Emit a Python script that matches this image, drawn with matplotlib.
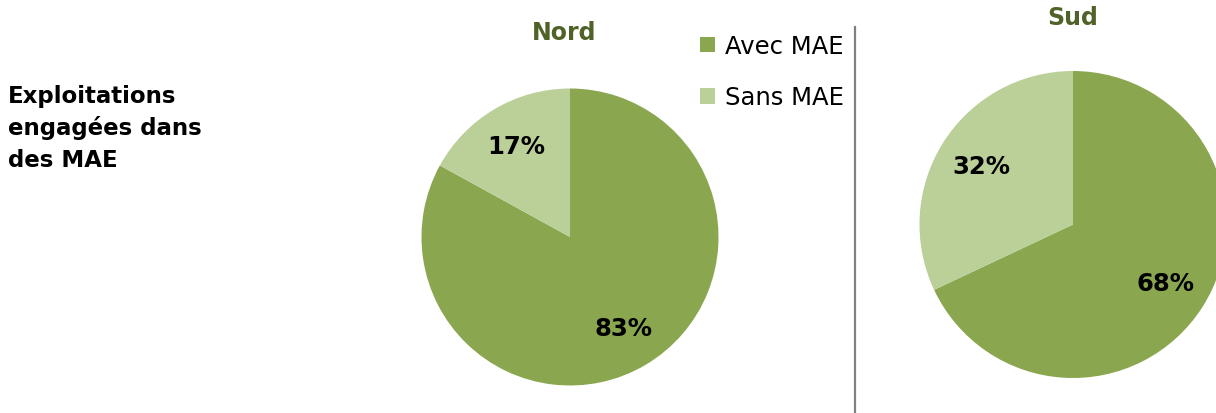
import matplotlib
matplotlib.use("Agg")
import matplotlib.pyplot as plt

categories = ["Avec MAE", "Sans MAE"]
regions = ["Nord", "Sud"]
nord_values = [83, 17]
sud_values = [68, 32]
colors = ["#8AA64F", "#BBCF98"]
title_color = "#4F6228"

W, H = 1216, 414
fig = plt.figure(figsize=(W / 100, H / 100), dpi=100)
fig.patch.set_facecolor("white")

def px_axes(cx, cy, r):
    # cx, cy in pixels from top-left
    return fig.add_axes([(cx - r) / W, (H - cy - r) / H, 2 * r / W, 2 * r / H])

pies = [(nord_values, 570, 238, 148.5), (sud_values, 1073, 225.5, 153.5)]
wedges_all = []
for vals, cx, cy, r in pies:
    ax = px_axes(cx, cy, r)
    wedges, texts, autotexts = ax.pie(
        vals, colors=colors, startangle=90, counterclock=False,
        autopct="%.0f%%", pctdistance=0.71, radius=1.0,
        textprops=dict(fontsize=17.5, fontweight="bold", color="black",
                       family="DejaVu Sans"),
        wedgeprops=dict(linewidth=0))
    ax.set_xlim(-1, 1)
    ax.set_ylim(-1, 1)
    ax.set_aspect("equal")
    ax.axis("off")
    wedges_all.append(wedges)

# Titles
fig.text(564 / W, 1 - 33 / H, regions[0], ha="center", va="center",
         fontsize=17, fontweight="bold", color=title_color, family="DejaVu Sans")
fig.text(1073 / W, 1 - 18 / H, regions[1], ha="center", va="center",
         fontsize=17, fontweight="bold", color=title_color, family="DejaVu Sans")

# Left heading
lines = ["Exploitations", "engagées dans", "des MAE"]
baselines = [103, 135, 167]
for t, b in zip(lines, baselines):
    fig.text(8 / W, 1 - b / H, t, ha="left", va="baseline",
             fontsize=16.5, fontweight="bold", color="black", family="DejaVu Sans")

# Legend
leg = fig.legend(wedges_all[0], categories, loc="upper left",
                 bbox_to_anchor=(700 / W, 1 - 35 / H), frameon=False,
                 fontsize=17.5, handlelength=0.62, handleheight=0.62,
                 handletextpad=0.4, labelspacing=1.12, borderpad=0,
                 borderaxespad=0)

# Vertical separator
fig.add_artist(plt.Line2D([855 / W, 855 / W], [0, 1 - 28 / H],
                          transform=fig.transFigure, color="#808080", linewidth=1.6))

fig.savefig("out.png", dpi=100, facecolor="white")
